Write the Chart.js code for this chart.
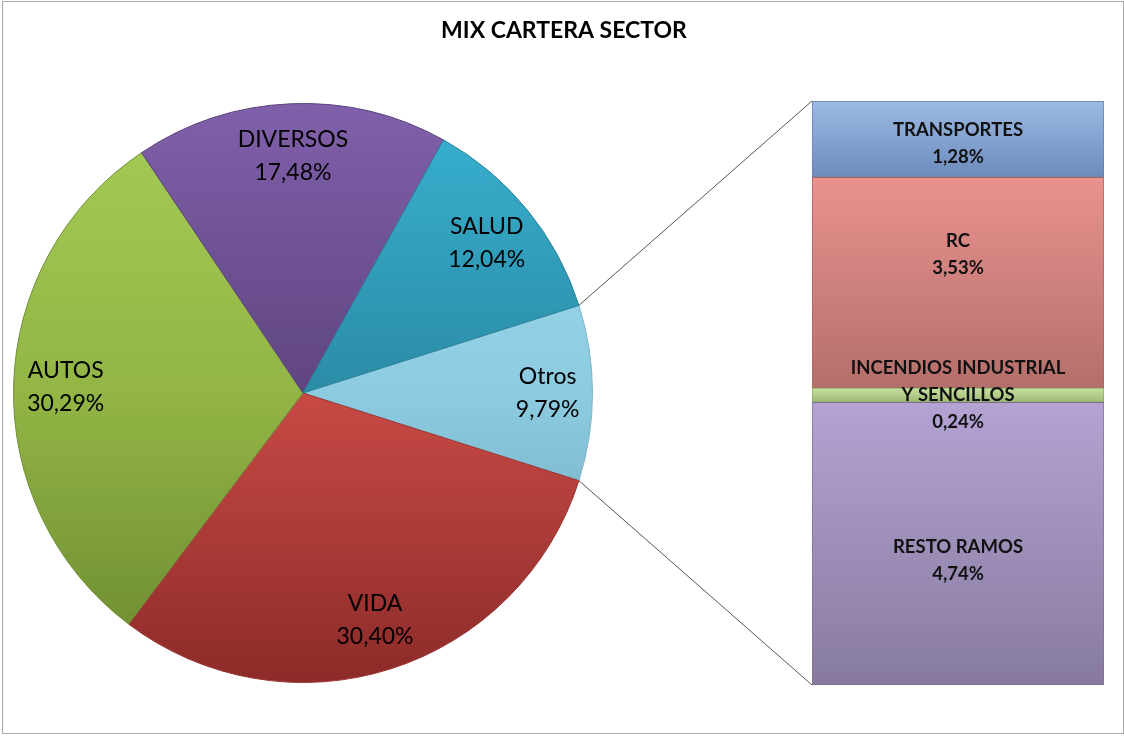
<!DOCTYPE html>
<html>
<head>
<meta charset="utf-8">
<script src="https://cdn.jsdelivr.net/npm/chart.js@4"></script>
<style>
  body { margin: 0; background: #fff; }
  #wrap { position: relative; width: 1124px; height: 736px; overflow: hidden; }
  #frame { position: absolute; left: 2px; top: 1px; width: 1122px; height: 733px; box-sizing: border-box; border: 1px solid #a9a9a9; }
  #pie { position: absolute; left: 0; top: 0; }
  #bar { position: absolute; left: 800px; top: 90px; }
</style>
</head>
<body>
<div id="wrap">
  <div id="frame"></div>
  <canvas id="pie" width="1124" height="736"></canvas>
  <canvas id="bar" width="316" height="608"></canvas>
</div>
<script>
// Main pie, clockwise starting with "Otros"
const pieLabels = ["Otros", "VIDA", "AUTOS", "DIVERSOS", "SALUD"];
const pieValues = [9.79, 30.40, 30.29, 17.48, 12.04];

// Breakdown of "Otros", bottom to top of the stacked bar
const barLabels = [["RESTO RAMOS"], ["INCENDIOS INDUSTRIAL", "Y SENCILLOS"], ["RC"], ["TRANSPORTES"]];
const barValues = [4.74, 0.24, 3.53, 1.28];

const chartTitle = "MIX CARTERA SECTOR";

// colours: [top of pie, middle, bottom of pie]
const pieShades = [
  ["#a3e0f2", "#8ccbe0", "#6a9fb4"],
  ["#d65651", "#c84a45", "#8c2b29"],
  ["#a6cd57", "#92b545", "#69882f"],
  ["#8060ab", "#5f4580", "#553d72"],
  ["#38b3d2", "#2b8ba6", "#24768d"]
];
const pieEdges = ["#7fb3c6", "#9a3633", "#708f38", "#5a437a", "#2a8199"];
// colours: [top of segment, bottom of segment]
const barShades = [
  ["#b4a3d3", "#877a9e"],
  ["#c6df9f", "#9fba74"],
  ["#e9928e", "#b46f6b"],
  ["#9dbae4", "#6c8bbb"]
];
const barEdges = ["#7d6f93", "#8da564", "#a7625f", "#5f7eaa"];
const barLabelNudge = [17, 0, -28, 4];

const fmt = v => v.toFixed(2).replace(".", ",") + "%";
const pieTotal = pieValues.reduce((a, b) => a + b, 0);
const barTotal = barValues.reduce((a, b) => a + b, 0);

// ---------- bar of "Otros" ----------
const barLabelPlugin = {
  id: "barLabels",
  afterDatasetsDraw(chart) {
    const ctx = chart.ctx;
    ctx.save();
    ctx.font = "bold 18.5px Lato";
    ctx.fillStyle = "#111";
    ctx.textAlign = "center";
    ctx.textBaseline = "middle";
    chart.data.datasets.forEach((ds, i) => {
      const el = chart.getDatasetMeta(i).data[0];
      const lines = barLabels[i].concat([fmt(barValues[i])]);
      const cy = (el.y + el.base) / 2 + barLabelNudge[i];
      const gap = 27;
      lines.forEach((t, k) => {
        ctx.fillText(t, el.x, cy + (k - (lines.length - 1) / 2) * gap);
      });
    });
    ctx.restore();
  }
};

let cum = 0;
const barDatasets = barValues.map((v, i) => {
  const lo = cum, hi = cum + v;
  cum = hi;
  return {
    label: barLabels[i].join(" "),
    data: [v],
    borderWidth: 1,
    borderColor: barEdges[i],
    borderSkipped: false,
    backgroundColor: (c) => {
      const chart = c.chart;
      if (!chart.chartArea || !chart.scales.y) return barShades[i][0];
      const y = chart.scales.y;
      const g = chart.ctx.createLinearGradient(0, y.getPixelForValue(hi), 0, y.getPixelForValue(lo));
      g.addColorStop(0, barShades[i][0]);
      g.addColorStop(1, barShades[i][1]);
      return g;
    }
  };
});

const barChart = new Chart(document.getElementById("bar"), {
  type: "bar",
  data: { labels: ["Otros"], datasets: barDatasets },
  options: {
    responsive: false,
    animation: false,
    devicePixelRatio: 1,
    layout: { padding: { left: 12, right: 12, top: 11, bottom: 13 } },
    datasets: { bar: { barPercentage: 1, categoryPercentage: 1 } },
    scales: {
      x: { stacked: true, display: false },
      y: { stacked: true, display: false, min: 0, max: barTotal }
    },
    plugins: { legend: { display: false }, tooltip: { enabled: false } }
  },
  plugins: [barLabelPlugin]
});

// ---------- main pie ----------
const pieLabelPlugin = {
  id: "pieLabels",
  afterDatasetsDraw(chart) {
    const ctx = chart.ctx;
    ctx.save();
    ctx.font = "23px Lato";
    ctx.fillStyle = "#000";
    ctx.textAlign = "center";
    ctx.textBaseline = "middle";
    chart.getDatasetMeta(0).data.forEach((arc, i) => {
      const mid = (arc.startAngle + arc.endAngle) / 2;
      const r = arc.outerRadius * (i === 0 ? 0.845 : 0.82);
      const x = arc.x + Math.cos(mid) * r;
      const y = arc.y + Math.sin(mid) * r;
      ctx.fillText(pieLabels[i], x, y - 16);
      ctx.fillText(fmt(pieValues[i]), x, y + 17);
    });
    ctx.restore();
  }
};

// title centred on the whole picture, not just the pie area
const pageTitlePlugin = {
  id: "pageTitle",
  afterDraw(chart) {
    const ctx = chart.ctx;
    ctx.save();
    ctx.font = "bold 23px Lato";
    ctx.fillStyle = "#000";
    ctx.textAlign = "center";
    ctx.textBaseline = "middle";
    ctx.fillText(chartTitle, chart.width / 2 + 2, 31);
    ctx.restore();
  }
};

// lines joining the "Otros" slice to the bar
const connectorPlugin = {
  id: "connectors",
  afterDraw(chart) {
    const arc = chart.getDatasetMeta(0).data[0];
    const bottomEl = barChart.getDatasetMeta(0).data[0];
    const topEl = barChart.getDatasetMeta(barValues.length - 1).data[0];
    const ox = barChart.canvas.offsetLeft, oy = barChart.canvas.offsetTop;
    const bx = ox + topEl.x - topEl.width / 2;
    const ctx = chart.ctx;
    ctx.save();
    ctx.strokeStyle = "#555";
    ctx.lineWidth = 1;
    ctx.beginPath();
    ctx.moveTo(arc.x + Math.cos(arc.startAngle) * arc.outerRadius, arc.y + Math.sin(arc.startAngle) * arc.outerRadius);
    ctx.lineTo(bx, oy + topEl.y);
    ctx.moveTo(arc.x + Math.cos(arc.endAngle) * arc.outerRadius, arc.y + Math.sin(arc.endAngle) * arc.outerRadius);
    ctx.lineTo(bx, oy + bottomEl.base);
    ctx.stroke();
    ctx.restore();
  }
};

new Chart(document.getElementById("pie"), {
  type: "pie",
  data: {
    labels: pieLabels,
    datasets: [{
      data: pieValues,
      borderWidth: 1,
      borderColor: pieEdges,
      hoverOffset: 0,
      backgroundColor: (c) => {
        const chart = c.chart, i = c.dataIndex;
        const area = chart.chartArea;
        if (!area) return pieShades[i][1];
        const g = chart.ctx.createLinearGradient(0, area.top, 0, area.bottom);
        g.addColorStop(0, pieShades[i][0]);
        g.addColorStop(0.5, pieShades[i][1]);
        g.addColorStop(1, pieShades[i][2]);
        return g;
      }
    }]
  },
  options: {
    responsive: false,
    animation: false,
    devicePixelRatio: 1,
    rotation: 90 - (pieValues[0] / pieTotal) * 180,
    layout: { padding: { left: 13, right: 531, top: 103, bottom: 53 } },
    plugins: {
      legend: { display: false },
      tooltip: { enabled: false },
      title: { display: false }
    }
  },
  plugins: [pieLabelPlugin, pageTitlePlugin, connectorPlugin]
});
</script>
</body>
</html>
